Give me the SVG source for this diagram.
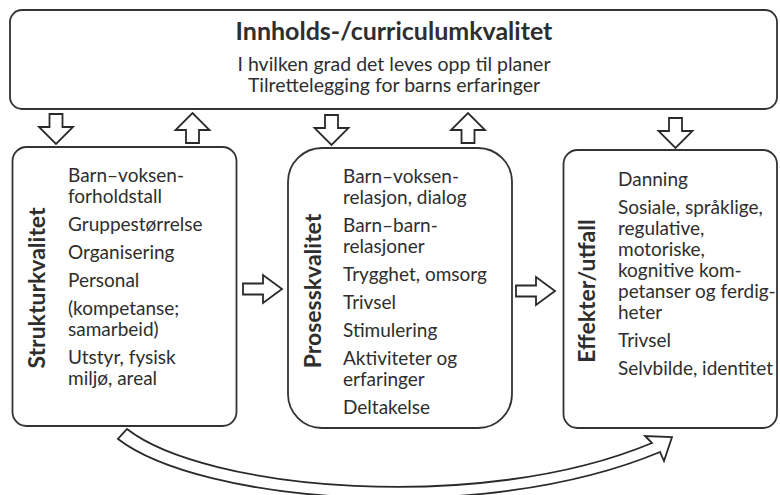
<svg xmlns="http://www.w3.org/2000/svg" xmlns:xlink="http://www.w3.org/1999/xlink" width="780" height="495" viewBox="0 0 780 495">
<style>
.box{fill:#fff;stroke:#333;stroke-width:1.8}
.arr{fill:#fff;stroke:#2a2a2a;stroke-width:1.8;stroke-linejoin:miter}
text{font-family:Lato,"Open Sans","Liberation Sans",sans-serif;fill:#2e2e2e}
.t{font-weight:bold;font-size:23px}
.h{font-weight:bold;font-size:25px}
.s{font-size:19.5px}
.i{font-size:19px}
</style>
<defs>
<path id="down" d="M-6.5,0 H6.5 V13 H17 L0,30 L-17,13 H-6.5 Z"/>
<path id="right" d="M0,-5.5 H20 V-14 L39,0 L20,14 V5.5 H0 Z"/>
</defs>
<rect width="780" height="495" fill="#fff"/>
<g id="top">
<rect class="box" x="10" y="10" width="767" height="99" rx="12"/>
<text class="h" x="394" y="40" text-anchor="middle">Innholds-/curriculumkvalitet</text>
<text class="s" x="394" y="71" text-anchor="middle">I hvilken grad det leves opp til planer</text>
<text class="s" x="394" y="92" text-anchor="middle">Tilrettelegging for barns erfaringer</text>
</g>
<g id="struktur">
<rect class="box" x="12.5" y="147" width="224" height="279" rx="14"/>
<text class="t" transform="translate(45,288) rotate(-90)" text-anchor="middle">Strukturkvalitet</text>
<text class="i" x="68" y="182">Barn–voksen-</text>
<text class="i" x="68" y="203">forholdstall</text>
<text class="i" x="68" y="231">Gruppestørrelse</text>
<text class="i" x="68" y="259">Organisering</text>
<text class="i" x="68" y="287">Personal</text>
<text class="i" x="68" y="315">(kompetanse;</text>
<text class="i" x="68" y="336">samarbeid)</text>
<text class="i" x="68" y="364">Utstyr, fysisk</text>
<text class="i" x="68" y="385">miljø, areal</text>
</g>
<g id="prosess">
<rect class="box" x="288" y="148" width="224" height="280" rx="34"/>
<text class="t" transform="translate(321,291) rotate(-90)" text-anchor="middle">Prosesskvalitet</text>
<text class="i" x="343" y="183">Barn–voksen-</text>
<text class="i" x="343" y="204">relasjon, dialog</text>
<text class="i" x="343" y="232">Barn–barn-</text>
<text class="i" x="343" y="253">relasjoner</text>
<text class="i" x="343" y="281">Trygghet, omsorg</text>
<text class="i" x="343" y="309">Trivsel</text>
<text class="i" x="343" y="337">Stimulering</text>
<text class="i" x="343" y="365">Aktiviteter og</text>
<text class="i" x="343" y="386">erfaringer</text>
<text class="i" x="343" y="414">Deltakelse</text>
</g>
<g id="effekter">
<rect class="box" x="563.5" y="150" width="213.5" height="278" rx="14"/>
<text class="t" transform="translate(595,291) rotate(-90)" text-anchor="middle">Effekter/utfall</text>
<text class="i" x="618" y="186">Danning</text>
<text class="i" x="618" y="214">Sosiale, språklige,</text>
<text class="i" x="618" y="235">regulative,</text>
<text class="i" x="618" y="256">motoriske,</text>
<text class="i" x="618" y="277">kognitive kom-</text>
<text class="i" x="618" y="298">petanser og ferdig-</text>
<text class="i" x="618" y="319">heter</text>
<text class="i" x="618" y="347">Trivsel</text>
<text class="i" x="618" y="375">Selvbilde, identitet</text>
</g>
<g id="connectors">
<use xlink:href="#down" class="arr" transform="translate(56,114)"/>
<use xlink:href="#down" class="arr" transform="translate(192.5,143) rotate(180)"/>
<use xlink:href="#down" class="arr" transform="translate(331.5,115)"/>
<use xlink:href="#down" class="arr" transform="translate(468,143) rotate(180)"/>
<use xlink:href="#down" class="arr" transform="translate(675.5,118)"/>
<use xlink:href="#right" class="arr" transform="translate(243,289)"/>
<use xlink:href="#right" class="arr" transform="translate(516,291)"/>
<path class="arr" d="M127,429 C205,490 480,515 652,443 L645,436 L672,437 L664,461 L660,452 C480,527 200,502 118,439 Z"/>
</g>
</svg>
